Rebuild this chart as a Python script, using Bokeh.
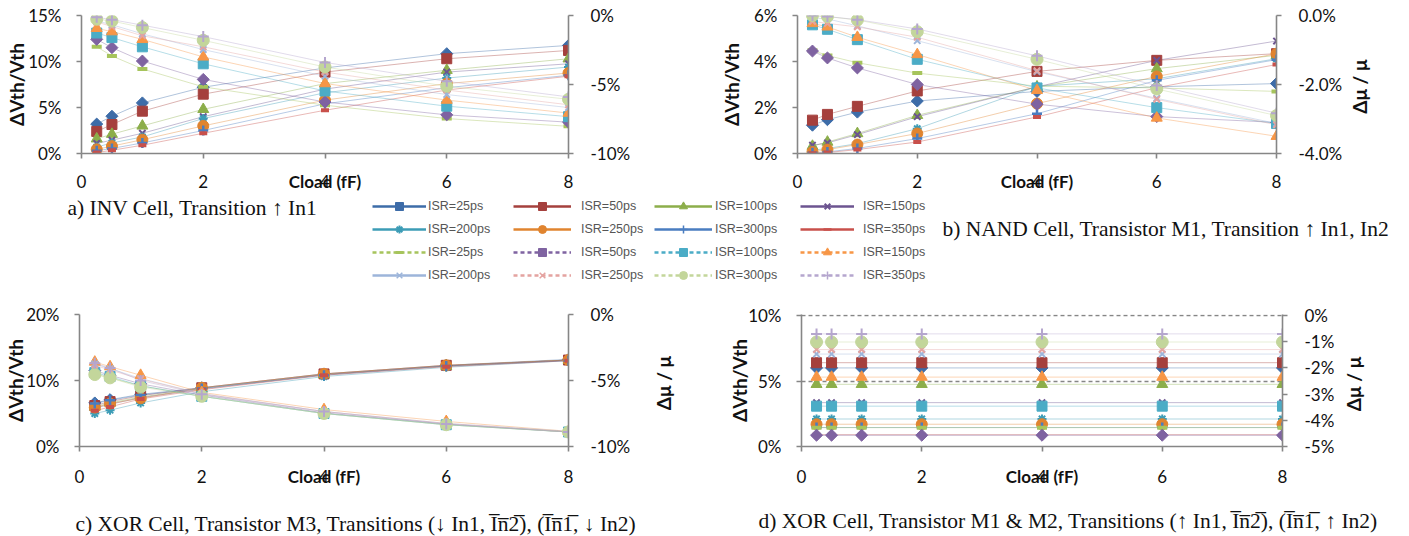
import math
from bokeh.plotting import figure
from bokeh.models import (Range1d, LinearAxis, FixedTicker, PrintfTickFormatter,
                          CustomJSTickFormatter, Label, Legend, LegendItem, ColumnDataSource)
from bokeh.layouts import column, row
from bokeh.embed import file_html
from bokeh.resources import INLINE

# ---------------- data ----------------
cload = [0.25, 0.5, 1, 2, 4, 6, 8]
x_ticks = [0, 2, 4, 6, 8]
isr_labels = ["ISR=25ps", "ISR=50ps", "ISR=100ps", "ISR=150ps",
              "ISR=200ps", "ISR=250ps", "ISR=300ps", "ISR=350ps",
              "ISR=25ps", "ISR=50ps", "ISR=100ps", "ISR=150ps",
              "ISR=200ps", "ISR=250ps", "ISR=300ps", "ISR=350ps"]

# a) INV cell : dVth/Vth (%) for the 8 first series, dmu/mu (%) for the 8 last
a_vth = [
    [3.2, 4.05, 5.5, 7.2, 9.3, 10.85, 11.75],
    [2.4, 3.15, 4.6, 6.45, 8.85, 10.3, 11.2],
    [1.6, 2.1, 3.0, 4.8, 7.6, 9.05, 10.3],
    [1.1, 1.45, 2.2, 4.0, 7.0, 8.85, 9.75],
    [0.7, 1.15, 1.8, 3.8, 6.6, 8.2, 9.4],
    [0.45, 0.8, 1.5, 3.0, 5.8, 7.6, 8.75],
    [0.3, 0.55, 1.15, 2.5, 5.4, 7.15, 8.5],
    [0.1, 0.35, 0.9, 2.2, 4.7, 6.9, 8.4],
]
a_mu = [
    [-2.27, -2.93, -3.87, -5.17, -6.5, -7.47, -8.03],
    [-1.73, -2.33, -3.3, -4.63, -6.27, -7.2, -7.73],
    [-1.27, -1.6, -2.27, -3.5, -5.47, -6.57, -7.33],
    [-0.93, -1.17, -1.73, -3.0, -4.93, -6.13, -7.07],
    [-0.4, -0.67, -1.33, -2.47, -4.4, -5.73, -6.67],
    [-0.47, -0.8, -1.47, -2.27, -4.1, -5.4, -6.47],
    [-0.27, -0.4, -0.87, -1.8, -3.73, -5.13, -6.07],
    [-0.13, -0.3, -0.7, -1.53, -3.4, -4.77, -5.9],
]

# b) NAND cell
b_vth = [
    [1.23, 1.47, 1.8, 2.28, 2.7, 2.9, 3.04],
    [1.45, 1.7, 2.05, 2.72, 3.57, 4.05, 4.34],
    [0.32, 0.5, 0.87, 1.66, 2.9, 3.69, 4.27],
    [0.36, 0.46, 0.82, 1.6, 2.9, 4.05, 4.89],
    [0.14, 0.22, 0.43, 1.08, 2.92, 3.25, 4.12],
    [0.07, 0.17, 0.39, 0.87, 2.17, 3.35, 4.34],
    [0.03, 0.07, 0.22, 0.65, 1.73, 3.18, 4.08],
    [0.01, 0.04, 0.17, 0.5, 1.59, 2.86, 3.87],
]
b_mu = [
    [-1.01, -1.16, -1.37, -1.67, -2.05, -2.1, -2.2],
    [-1.03, -1.23, -1.52, -2.0, -2.57, -2.93, -3.1],
    [-0.27, -0.4, -0.7, -1.27, -2.1, -2.67, -3.13],
    [-0.23, -0.33, -0.63, -1.13, -2.17, -2.97, -3.5],
    [-0.07, -0.1, -0.3, -0.73, -1.63, -2.4, -3.13],
    [-0.17, -0.23, -0.33, -0.63, -1.6, -2.43, -3.17],
    [0.0, -0.03, -0.13, -0.47, -1.27, -2.13, -2.9],
    [0.0, -0.03, -0.12, -0.39, -1.17, -2.03, -2.83],
]

# c) XOR cell, transistor M3
c_vth = [
    [6.6, 7.1, 7.9, 8.9, 11.0, 12.3, 13.2],
    [6.2, 6.8, 7.7, 8.9, 11.0, 12.3, 13.1],
    [6.0, 6.6, 7.5, 8.8, 10.9, 12.2, 13.1],
    [5.8, 6.4, 7.4, 8.7, 10.9, 12.2, 13.1],
    [5.0, 5.5, 6.6, 8.3, 10.6, 12.0, 13.0],
    [5.9, 6.5, 7.3, 8.9, 11.0, 12.3, 13.1],
    [6.5, 7.0, 7.8, 8.8, 10.8, 12.2, 13.0],
    [5.4, 6.0, 7.2, 8.6, 10.8, 12.1, 13.0],
]
c_mu = [
    [-4.5, -4.8, -5.4, -6.2, -7.5, -8.35, -8.9],
    [-4.25, -4.6, -5.25, -6.1, -7.45, -8.3, -8.9],
    [-4.4, -4.7, -5.4, -6.2, -7.5, -8.35, -8.9],
    [-3.6, -3.95, -4.6, -5.9, -7.2, -8.1, -8.85],
    [-3.75, -4.1, -4.85, -6.0, -7.35, -8.25, -8.85],
    [-3.85, -4.2, -4.9, -6.0, -7.35, -8.25, -8.9],
    [-4.55, -4.8, -5.5, -6.2, -7.5, -8.35, -8.9],
    [-3.7, -4.05, -5.0, -6.05, -7.35, -8.3, -8.9],
]

# d) XOR cell, transistors M1 & M2
d_vth = [
    [6.0, 6.0, 6.0, 6.0, 6.0, 6.0, 6.0],
    [6.4, 6.4, 6.4, 6.4, 6.4, 6.4, 6.4],
    [4.75, 4.75, 4.75, 4.75, 4.75, 4.75, 4.75],
    [3.35, 3.35, 3.35, 3.35, 3.35, 3.35, 3.35],
    [2.1, 2.1, 2.1, 2.1, 2.1, 2.1, 2.1],
    [1.7, 1.7, 1.7, 1.7, 1.7, 1.7, 1.7],
    [1.45, 1.45, 1.45, 1.45, 1.45, 1.45, 1.45],
    [0.9, 0.9, 0.9, 0.9, 0.9, 0.9, 0.9],
]
d_mu = [
    [-4.28, -4.28, -4.28, -4.28, -4.28, -4.28, -4.28],
    [-4.57, -4.57, -4.57, -4.57, -4.57, -4.57, -4.57],
    [-3.46, -3.46, -3.46, -3.46, -3.46, -3.46, -3.46],
    [-2.35, -2.35, -2.35, -2.35, -2.35, -2.35, -2.35],
    [-1.47, -1.47, -1.47, -1.47, -1.47, -1.47, -1.47],
    [-1.3, -1.3, -1.3, -1.3, -1.3, -1.3, -1.3],
    [-1.01, -1.01, -1.01, -1.01, -1.01, -1.01, -1.01],
    [-0.7, -0.7, -0.7, -0.7, -0.7, -0.7, -0.7],
]

# ---------------- styles ----------------
colors = ["#3D6CA8", "#A5403D", "#8CAE4A", "#6C5490", "#3C9CB6", "#E0842F", "#4A7DC0", "#C8504B",
          "#A6C45C", "#7F63A1", "#4BACC6", "#F79646", "#9DB5DA", "#E4A3A0", "#C3D69B", "#B5A6CE"]
markers = ["square", "square", "triangle", "x", "asterisk", "circle", "cross", "dash",
           "dash", "square", "square", "triangle", "x", "x", "circle", "cross"]
angles = [math.pi / 4, 0, 0, 0, 0, 0, 0, 0, 0, math.pi / 4, 0, 0, 0, 0, 0, 0]
msizes = [8.5, 10, 11, 9, 9, 11, 10, 8, 10, 8.5, 10, 11, 9, 9, 12, 11]
mwidths = [1, 1, 1, 2, 2, 1, 2.5, 4, 4, 1, 1, 1, 2, 2, 1, 2]
legend_dash = ["solid"] * 8 + ["4 3", "4 3", "4 3", "4 3", "solid", "4 3", "4 3", "4 3"]

GRAY = "#868686"
TICK_FONT = "Lato"
TITLE_FONT = "Lato"
CAP_FONT = "Liberation Serif"
CAP_SIZE = "21.5px"


def style_axis(ax, standoff):
    ax.axis_line_color = GRAY
    ax.axis_line_width = 1.6
    ax.major_tick_line_color = GRAY
    ax.major_tick_line_width = 1.6
    ax.major_tick_in = 0
    ax.major_tick_out = 5
    ax.minor_tick_line_color = None
    ax.major_label_text_font = TICK_FONT
    ax.major_label_text_font_size = "17px"
    ax.major_label_text_color = "#111111"
    ax.major_label_standoff = standoff
    ax.axis_label_text_font = TITLE_FONT
    ax.axis_label_text_font_style = "bold"
    ax.axis_label_text_color = "#111111"


def make_panel(W, H, L, R, T, B, ymax, yticks, rmin, rtop, rticks, rfmt, vth, mu,
               xstand, lstand, rstand, title_at=None, grid=False):
    p = figure(width=W, height=H, x_range=Range1d(0, 8), y_range=Range1d(0, ymax),
               min_border_left=L, min_border_right=R, min_border_top=T, min_border_bottom=B,
               toolbar_location=None, output_backend="svg", outline_line_color=None,
               border_fill_color="white", background_fill_color="white")
    p.extra_y_ranges = {"mu": Range1d(rmin, rtop)}

    xax = p.xaxis[0]
    xax.ticker = FixedTicker(ticks=x_ticks)
    style_axis(xax, xstand)
    xax.axis_label = "Cload (fF)"
    xax.axis_label_text_font_size = "17px"
    xax.axis_label_standoff = -20

    yax = p.yaxis[0]
    yax.ticker = FixedTicker(ticks=yticks)
    yax.formatter = PrintfTickFormatter(format="%d%%")
    style_axis(yax, 15)
    yax.axis_label = "ΔVth/Vth"
    yax.axis_label_text_font_size = "19px"
    yax.axis_label_standoff = lstand

    rax = LinearAxis(y_range_name="mu", ticker=FixedTicker(ticks=rticks),
                     formatter=PrintfTickFormatter(format=rfmt))
    style_axis(rax, 17)
    p.add_layout(rax, "right")

    if title_at is not None:
        # title of the secondary axis, written bottom-to-top (rotated tick label)
        tax = LinearAxis(y_range_name="mu", ticker=FixedTicker(ticks=[title_at]),
                         formatter=CustomJSTickFormatter(code="return 'Δμ / μ'"),
                         major_label_orientation=math.pi / 2)
        style_axis(tax, rstand)
        tax.axis_line_color = None
        tax.major_tick_line_color = None
        tax.major_tick_out = 0
        tax.major_label_text_font = TITLE_FONT
        tax.major_label_text_font_style = "bold"
        tax.major_label_text_font_size = "19px"
        p.add_layout(tax, "right")

    p.xgrid.visible = False
    if grid:
        p.ygrid.ticker = FixedTicker(ticks=yticks)
        p.ygrid.grid_line_color = GRAY
        p.ygrid.grid_line_dash = "4 3"
        p.ygrid.grid_line_width = 1.6
    else:
        p.ygrid.visible = False

    series = [(vals, "default") for vals in vth] + [(vals, "mu") for vals in mu]
    for i, (vals, rng) in enumerate(series):
        p.line(cload, vals, line_color=colors[i], line_width=0.8, line_alpha=0.5,
               y_range_name=rng)
    for i, (vals, rng) in enumerate(series):
        p.scatter(cload, vals, marker=markers[i], size=msizes[i], angle=angles[i],
                  fill_color=colors[i], line_color=colors[i], line_width=mwidths[i],
                  y_range_name=rng)
    return p


OV2 = "I\u0305n\u03052\u0305"
OV1 = "I\u0305n\u03051\u0305"

fig_a = make_panel(703, 194, 81, 135, 15, 41, 15, [0, 5, 10, 15], -10, 0, [-10, -5, 0], "%d%%",
                   a_vth, a_mu, 16, -3, 14)
fig_b = make_panel(706, 194, 94, 133, 15, 41, 6, [0, 2, 4, 6], -4, 0, [-4, -2, 0], "%.1f%%",
                   b_vth, b_mu, 16, 8, 14, title_at=-2.85)
fig_c = make_panel(703, 203, 79, 135, 14, 57, 20, [0, 10, 20], -10, 0, [-10, -5, 0], "%d%%",
                   c_vth, c_mu, 18, -4, 30, title_at=-7.25)
fig_d = make_panel(706, 203, 98, 127, 14, 57, 10.08, [0, 5, 10], -5, 0.04,
                   [-5, -4, -3, -2, -1, 0], "%d%%",
                   d_vth, d_mu, 18, -6, 16, title_at=-3.65, grid=True)


def strip(height):
    s = figure(width=1409, height=height, x_range=Range1d(0, 1), y_range=Range1d(0, 1),
               x_axis_location=None, y_axis_location=None, min_border=0,
               toolbar_location=None, output_backend="svg", outline_line_color=None)
    s.grid.visible = False
    return s


def caption(fig, text, x, y):
    fig.add_layout(Label(x=x, y=y, x_units="screen", y_units="screen", text=text,
                         text_align="left", text_baseline="middle", text_font=CAP_FONT,
                         text_font_size=CAP_SIZE, text_color="#111111"))


# ---------------- middle strip: captions a/b and legend ----------------
mid = strip(106)
dummy = ColumnDataSource(dict(x=[float("nan")], y=[float("nan")]))
items = []
leg_sizes = [7, 8, 8, 7, 7, 8, 7, 6, 7, 7, 8, 8, 7, 7, 8, 7]
leg_mw = [1, 1, 1, 2, 2, 1, 1.5, 2.5, 3, 1, 1, 1, 1.5, 1.5, 1, 1.5]
for i in range(16):
    lr = mid.line("x", "y", source=dummy, line_color=colors[i], line_width=2.4,
                  line_dash=legend_dash[i])
    sr = mid.scatter("x", "y", source=dummy, marker=markers[i], size=leg_sizes[i],
                     angle=angles[i], fill_color=colors[i], line_color=colors[i],
                     line_width=leg_mw[i])
    items.append(LegendItem(label=isr_labels[i], renderers=[lr, sr]))

col_x = [372, 513, 654, 800]
col_gw = [54, 58, 58, 54]
col_so = [2, 10, 3, 9]
for j in range(4):
    lg = Legend(items=[items[j], items[4 + j], items[8 + j], items[12 + j]],
                location=(col_x[j], 15), orientation="vertical",
                glyph_width=col_gw[j], glyph_height=20, label_height=20,
                label_standoff=col_so[j], spacing=3, padding=0, margin=0,
                border_line_alpha=0, background_fill_alpha=0,
                label_text_font="Liberation Sans", label_text_font_size="12.5px",
                label_text_color="#555555")
    mid.add_layout(lg)

caption(mid, "a) INV Cell, Transition \u2191 In1", 67, 93)
caption(mid, "b) NAND Cell,  Transistor M1, Transition \u2191 In1, In2", 942, 72)

# ---------------- bottom strip: captions c/d ----------------
bot = strip(33)
caption(bot, "c) XOR Cell, Transistor M3, Transitions (\u2193 In1, " + OV2 + "), (" + OV1 + ", \u2193 In2)", 75, 13)
caption(bot, "d) XOR Cell, Transistor M1 & M2, Transitions (\u2191 In1, " + OV2 + "), (" + OV1 + ", \u2191 In2)", 758, 16)

layout = column(row(fig_a, fig_b), mid, row(fig_c, fig_d), bot)
open("out.html", "w").write(file_html(layout, INLINE))
